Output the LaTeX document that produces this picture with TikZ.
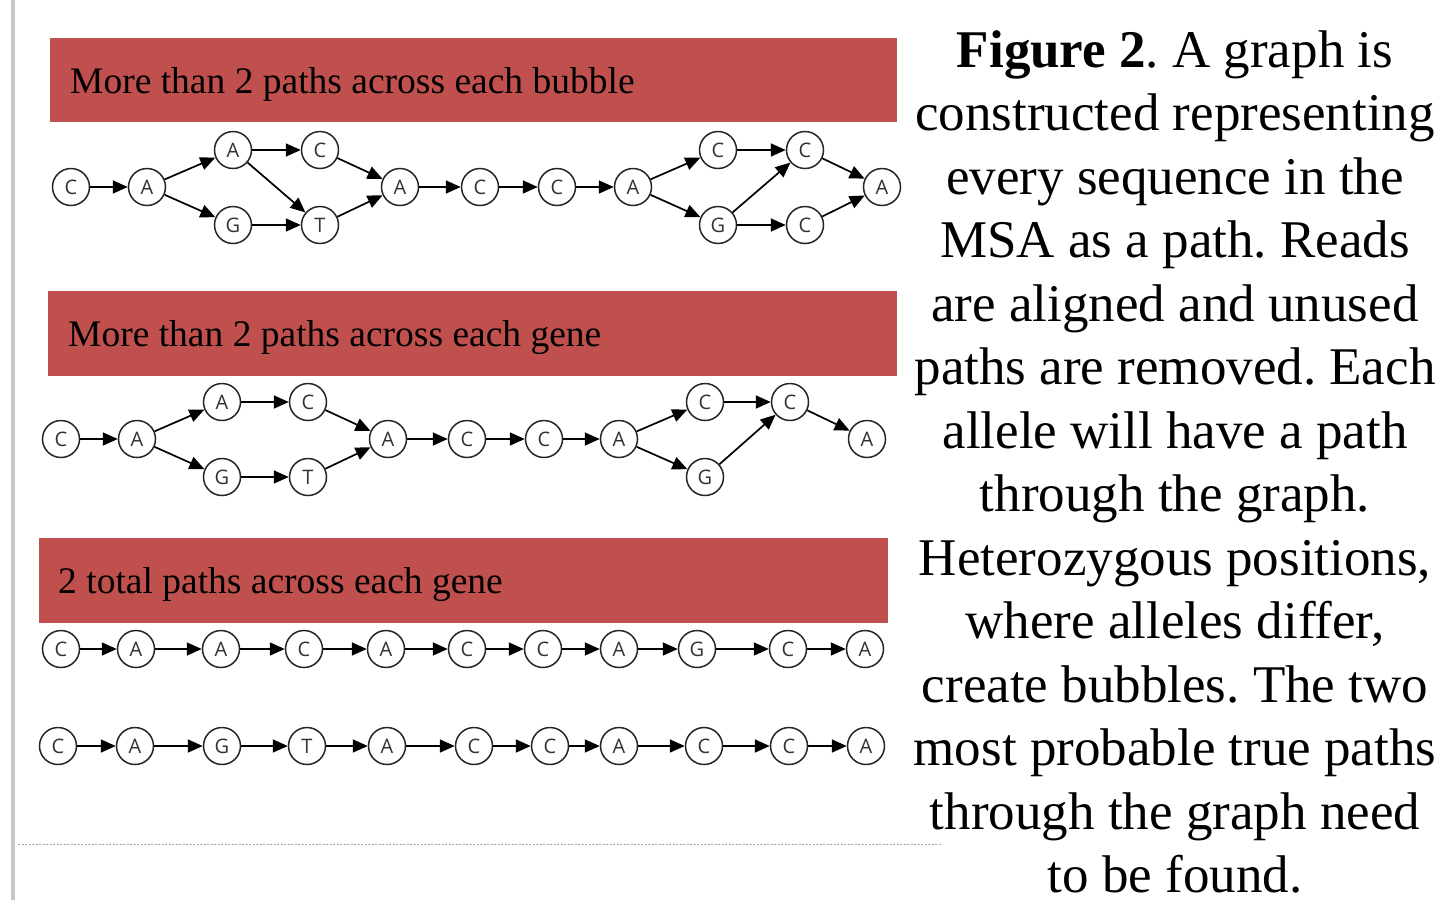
\documentclass[tikz,border=0pt]{standalone}
\usepackage{fontspec}
\setmainfont{Liberation Serif}
\newfontfamily\nodefont{Open Sans}
\usetikzlibrary{arrows.meta}
\definecolor{hdr}{HTML}{C0504D}
\frenchspacing
\begin{document}
\begin{tikzpicture}[x=1pt,y=-1pt,
 nd/.style={circle,draw=black!85,line width=1.5pt,fill=white,minimum size=37pt,inner sep=0pt,font=\nodefont\fontsize{20}{20}\selectfont,text=black!80},
 ar/.style={-{Triangle[length=15pt,width=13pt]},line width=1.7pt},
 hdrbox/.style={fill=hdr,draw=none},
 hdrtext/.style={anchor=base west,inner sep=0pt,font=\fontsize{37.5}{37.5}\selectfont},
 capline/.style={anchor=base,inner sep=0pt,font=\fontsize{53}{53}\selectfont}]
\useasboundingbox (0,0) rectangle (1448,900);
\fill[white] (0,0) rectangle (1448,900);
\fill[black!22] (11,0) rectangle (15,900);
\draw[black!35,dash pattern=on 2pt off 1.5pt,line width=0.8pt] (18,844) -- (942,844);
% headers
\fill[hdrbox] (50,38) rectangle (897,122);
\node[hdrtext] (h1) at (70,93) {More than 2 paths across each bubble};
\fill[hdrbox] (48,291) rectangle (897,376);
\node[hdrtext] (h2) at (68,346) {More than 2 paths across each gene};
\fill[hdrbox] (39,538) rectangle (888,623);
\node[hdrtext] (h3) at (58,593) {2 total paths across each gene};
% graph 1
\node[nd] (a1) at (71,187) {C};
\node[nd] (a2) at (147,187) {A};
\node[nd] (a3) at (233,150) {A};
\node[nd] (a4) at (233,225) {G};
\node[nd] (a5) at (320,150) {C};
\node[nd] (a6) at (320,225) {T};
\node[nd] (a7) at (400,187) {A};
\node[nd] (a8) at (480,187) {C};
\node[nd] (a9) at (557,187) {C};
\node[nd] (a10) at (633,187) {A};
\node[nd] (a11) at (718,150) {C};
\node[nd] (a12) at (718,225) {G};
\node[nd] (a13) at (805,150) {C};
\node[nd] (a14) at (805,225) {C};
\node[nd] (a15) at (882,187) {A};
\foreach \p/\q in {a1/a2,a2/a3,a2/a4,a3/a5,a3/a6,a4/a6,a5/a7,a6/a7,a7/a8,a8/a9,a9/a10,a10/a11,a10/a12,a11/a13,a12/a13,a12/a14,a13/a15,a14/a15}
  \draw[ar] (\p) -- (\q);
% graph 2
\node[nd] (b1) at (61,439) {C};
\node[nd] (b2) at (137,439) {A};
\node[nd] (b3) at (222,402) {A};
\node[nd] (b4) at (222,477) {G};
\node[nd] (b5) at (308,402) {C};
\node[nd] (b6) at (308,477) {T};
\node[nd] (b7) at (388,439) {A};
\node[nd] (b8) at (467,439) {C};
\node[nd] (b9) at (544,439) {C};
\node[nd] (b10) at (619,439) {A};
\node[nd] (b11) at (705,402) {C};
\node[nd] (b12) at (705,477) {G};
\node[nd] (b13) at (790,402) {C};
\node[nd] (b14) at (867,439) {A};
\foreach \p/\q in {b1/b2,b2/b3,b2/b4,b3/b5,b4/b6,b5/b7,b6/b7,b7/b8,b8/b9,b9/b10,b10/b11,b10/b12,b11/b13,b12/b13,b13/b14}
  \draw[ar] (\p) -- (\q);
% path 1
\foreach \n/\x/\l in {1/61/C,2/136/A,3/221/A,4/304/C,5/386/A,6/467/C,7/543/C,8/619/A,9/697/G,10/788/C,11/865/A}
  \node[nd] (c\n) at (\x,649) {\l};
\foreach \p/\q in {c1/c2,c2/c3,c3/c4,c4/c5,c5/c6,c6/c7,c7/c8,c8/c9,c9/c10,c10/c11}
  \draw[ar] (\p) -- (\q);
% path 2
\foreach \n/\x/\l in {1/58/C,2/135/A,3/222/G,4/307/T,5/387/A,6/474/C,7/550/C,8/619/A,9/704/C,10/789/C,11/866/A}
  \node[nd] (d\n) at (\x,746) {\l};
\foreach \p/\q in {d1/d2,d2/d3,d3/d4,d4/d5,d5/d6,d6/d7,d7/d8,d8/d9,d9/d10,d10/d11}
  \draw[ar] (\p) -- (\q);
% caption
\node[capline] (l1) at (1175,67) {\textbf{Figure 2}. A graph is};
\node[capline] (l2) at (1175,130.5) {constructed representing};
\node[capline] (l3) at (1175,194) {every sequence in the};
\node[capline] (l4) at (1175,257.5) {MSA as a path. Reads};
\node[capline] (l5) at (1175,321) {are aligned and unused};
\node[capline] (l6) at (1175,384.5) {paths are removed. Each};
\node[capline] (l7) at (1175,448) {allele will have a path};
\node[capline] (l8) at (1175,511.5) {through the graph.};
\node[capline] (l9) at (1175,575) {Heterozygous positions,};
\node[capline] (l10) at (1175,638.5) {where alleles differ,};
\node[capline] (l11) at (1175,702) {create bubbles. The two};
\node[capline] (l12) at (1175,765.5) {most probable true paths};
\node[capline] (l13) at (1175,829) {through the graph need};
\node[capline] (l14) at (1175,892.5) {to be found.};
\end{tikzpicture}
\end{document}
